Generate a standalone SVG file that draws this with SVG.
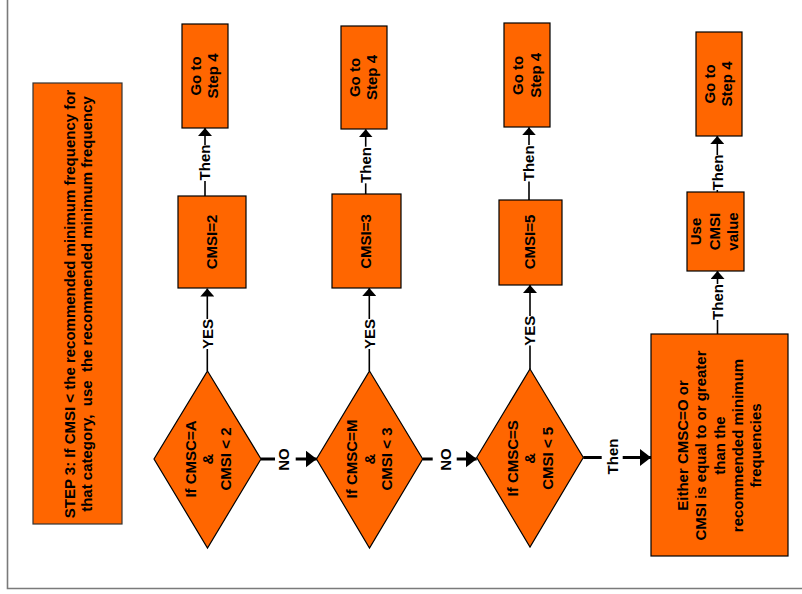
<svg xmlns="http://www.w3.org/2000/svg" width="802" height="594" viewBox="0 0 802 594">
<style>
.box{fill:#FF6600;stroke:#000;stroke-width:1.2}
.t{font-family:"Liberation Sans",Arial,sans-serif;font-weight:bold;font-size:15px;fill:#000;text-anchor:middle}
.v{fill:none;stroke:#000;stroke-width:1.6}
.h{fill:none;stroke:#000;stroke-width:3}
.frame{fill:none;stroke:#7a7a7a;stroke-width:1.6}
</style>
<defs>
<marker id="av" markerUnits="userSpaceOnUse" markerWidth="8" markerHeight="14" refX="8" refY="7" orient="auto">
<path d="M0,0 L8,7 L0,14 Z" fill="#000"/>
</marker>
<marker id="ah" markerUnits="userSpaceOnUse" markerWidth="11" markerHeight="17" refX="11" refY="8.5" orient="auto">
<path d="M0,0 L11,8.5 L0,17 Z" fill="#000"/>
</marker>
</defs>
<rect width="802" height="594" fill="#fff"/>
<path class="frame" d="M7.5,0 V588.5 H802"/>

<g id="step3">
<rect class="box" x="33" y="83" width="89" height="441" style="stroke:#333"/>
<text class="t" xml:space="preserve" transform="translate(74.5,304) rotate(-90)">STEP 3: If CMSI &lt; the recommended minimum frequency for</text>
<text class="t" xml:space="preserve" transform="translate(92,304) rotate(-90)">that category,  use  the recommended minimum frequency</text>
</g>

<g id="goto1">
<rect class="box" x="182" y="24" width="46" height="104"/>
<text class="t" transform="translate(201.3,76) rotate(-90)">Go to</text>
<text class="t" transform="translate(218,76) rotate(-90)">Step 4</text>
</g>
<g id="cmsi2">
<rect class="box" x="178" y="196" width="68" height="92"/>
<text class="t" transform="translate(216.5,242) rotate(-90)">CMSI=2</text>
</g>
<g id="dec1">
<polygon class="box" points="207.5,371 261,459 207.5,548 154,459"/>
<text class="t" transform="translate(195.5,459) rotate(-90)">If CMSC=A</text>
<text class="t" transform="translate(212.9,459) rotate(-90)">&amp;</text>
<text class="t" transform="translate(230.5,459) rotate(-90)">CMSI &lt; 2</text>
</g>

<g id="goto2">
<rect class="box" x="341" y="26" width="46" height="103"/>
<text class="t" transform="translate(360,77.5) rotate(-90)">Go to</text>
<text class="t" transform="translate(377.4,77.5) rotate(-90)">Step 4</text>
</g>
<g id="cmsi3">
<rect class="box" x="332" y="194" width="69" height="94"/>
<text class="t" transform="translate(371.3,241.5) rotate(-90)">CMSI=3</text>
</g>
<g id="dec2">
<polygon class="box" points="369.5,371 422.7,459 369.5,548 316.5,459"/>
<text class="t" transform="translate(357,459) rotate(-90)">If CMSC=M</text>
<text class="t" transform="translate(374.6,459) rotate(-90)">&amp;</text>
<text class="t" transform="translate(392,459) rotate(-90)">CMSI &lt; 3</text>
</g>

<g id="goto3">
<rect class="box" x="504" y="23" width="46" height="104"/>
<text class="t" transform="translate(523,75.3) rotate(-90)">Go to</text>
<text class="t" transform="translate(540.5,75.3) rotate(-90)">Step 4</text>
</g>
<g id="cmsi5">
<rect class="box" x="499" y="200" width="63" height="85"/>
<text class="t" transform="translate(535,242) rotate(-90)">CMSI=5</text>
</g>
<g id="dec3">
<polygon class="box" points="530,369 583.3,457.5 530,547 476.7,457.5"/>
<text class="t" transform="translate(517.6,458.3) rotate(-90)">If CMSC=S</text>
<text class="t" transform="translate(535.2,458.3) rotate(-90)">&amp;</text>
<text class="t" transform="translate(552.8,458.3) rotate(-90)">CMSI &lt; 5</text>
</g>

<g id="either">
<rect class="box" x="651" y="334" width="137" height="222"/>
<text class="t" transform="translate(688,445.5) rotate(-90)">Either CMSC=O or</text>
<text class="t" transform="translate(706.3,445.5) rotate(-90)">CMSI is equal to or greater</text>
<text class="t" transform="translate(724.6,445.5) rotate(-90)">than the</text>
<text class="t" transform="translate(742.9,445.5) rotate(-90)">recommended minimum</text>
<text class="t" transform="translate(761.2,445.5) rotate(-90)">frequencies</text>
</g>
<g id="usecmsi">
<rect class="box" x="687" y="192" width="57" height="79"/>
<text class="t" transform="translate(701.4,231.5) rotate(-90)">Use</text>
<text class="t" transform="translate(719.7,231.5) rotate(-90)">CMSI</text>
<text class="t" transform="translate(738,231.5) rotate(-90)">value</text>
</g>
<g id="goto4">
<rect class="box" x="696" y="32" width="46" height="104"/>
<text class="t" transform="translate(715.3,84) rotate(-90)">Go to</text>
<text class="t" transform="translate(732,84) rotate(-90)">Step 4</text>
</g>

<g id="connectors">
<!-- column 1 -->
<path class="v" d="M207.3,371 V349"/>
<path class="v" d="M207.3,319 V288.5" marker-end="url(#av)"/>
<text class="t" transform="translate(212.6,334) rotate(-90)">YES</text>
<path class="v" d="M205,196 V181"/>
<path class="v" d="M205,145 V128" marker-end="url(#av)"/>
<text class="t" transform="translate(210.4,162.5) rotate(-90)">Then</text>
<!-- column 2 -->
<path class="v" d="M369.3,371 V349"/>
<path class="v" d="M369.3,319 V288" marker-end="url(#av)"/>
<text class="t" transform="translate(374.6,334) rotate(-90)">YES</text>
<path class="v" d="M365.7,194 V183.3"/>
<path class="v" d="M365.7,146.7 V129.3" marker-end="url(#av)"/>
<text class="t" transform="translate(371,165) rotate(-90)">Then</text>
<!-- column 3 -->
<path class="v" d="M530,369 V345.5"/>
<path class="v" d="M530,316 V285" marker-end="url(#av)"/>
<text class="t" transform="translate(535.3,330.8) rotate(-90)">YES</text>
<path class="v" d="M529,200 V181.5"/>
<path class="v" d="M529,145 V127.3" marker-end="url(#av)"/>
<text class="t" transform="translate(534.3,163.3) rotate(-90)">Then</text>
<!-- column 4 -->
<path class="v" d="M717.5,334 V320"/>
<path class="v" d="M717.5,284 V271" marker-end="url(#av)"/>
<text class="t" transform="translate(722.8,302) rotate(-90)">Then</text>
<path class="v" d="M717.3,192 V190"/>
<path class="v" d="M717.3,155 V136" marker-end="url(#av)"/>
<text class="t" transform="translate(722.6,172.5) rotate(-90)">Then</text>
<!-- horizontal -->
<path class="h" d="M261,459 H275"/>
<path class="h" d="M295.7,459 H316.7" marker-end="url(#ah)"/>
<text class="t" transform="translate(289.2,459.5) rotate(-90)">NO</text>
<path class="h" d="M422.7,459 H432.7"/>
<path class="h" d="M456.7,459 H476.7" marker-end="url(#ah)"/>
<text class="t" transform="translate(450.5,459.5) rotate(-90)">NO</text>
<path class="h" d="M583.3,457.5 H601.7"/>
<path class="h" d="M622.7,457.5 H651" marker-end="url(#ah)"/>
<text class="t" transform="translate(618,456.5) rotate(-90)">Then</text>
</g>
</svg>
